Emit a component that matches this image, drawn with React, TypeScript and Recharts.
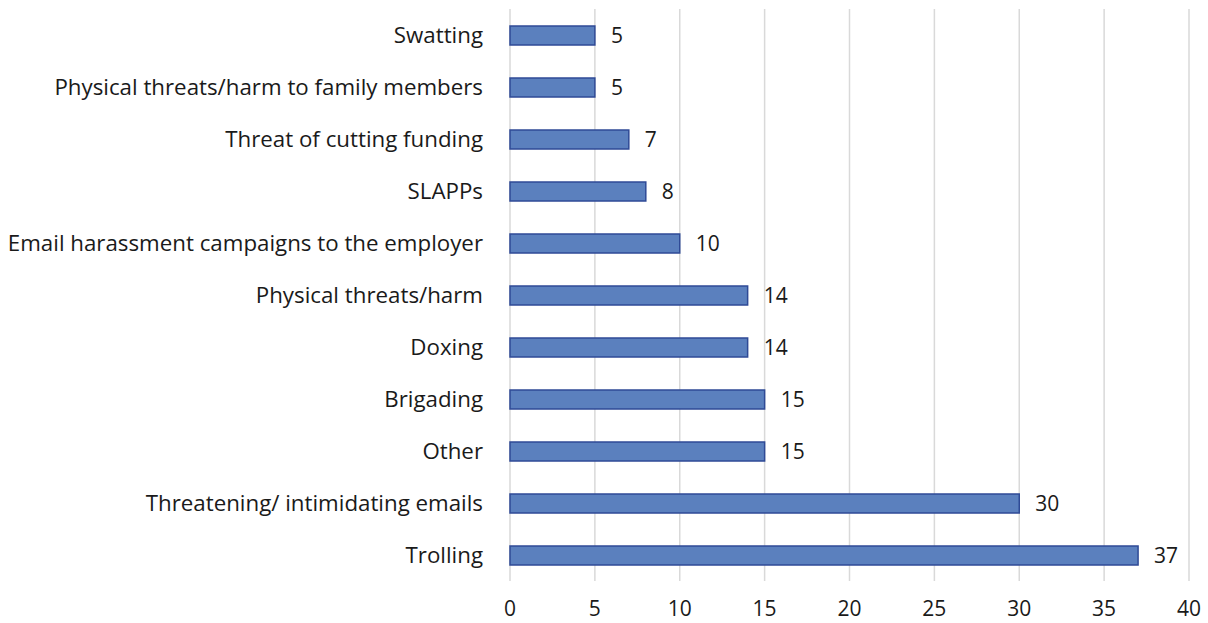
import { Bar, BarChart, CartesianGrid, LabelList, XAxis, YAxis } from 'recharts';

const categories = [
  'Swatting',
  'Physical threats/harm to family members',
  'Threat of cutting funding',
  'SLAPPs',
  'Email harassment campaigns to the employer',
  'Physical threats/harm',
  'Doxing',
  'Brigading',
  'Other',
  'Threatening/ intimidating emails',
  'Trolling',
];

const counts = [5, 5, 7, 8, 10, 14, 14, 15, 15, 30, 37];

const xTicks = [0, 5, 10, 15, 20, 25, 30, 35, 40];

const data = categories.map((name, i) => ({ name, value: counts[i] }));

const font = '"Open Sans", sans-serif';

export default function App() {
  return (
    <div style={{ position: 'absolute', left: 0, top: 0, background: '#fff' }}>
      <BarChart
        width={1208}
        height={623}
        data={data}
        layout="vertical"
        margin={{ top: 9, right: 19, bottom: 0, left: 0 }}
        barCategoryGap={0}
      >
        <CartesianGrid horizontal={false} stroke="#d9d9d9" strokeWidth={1.5} />
        <XAxis
          type="number"
          domain={[0, 40]}
          ticks={xTicks}
          height={42}
          axisLine={false}
          tickLine={false}
          tickSize={0}
          tickMargin={20}
          tick={{ fill: '#1a1a1a', fontSize: 21, fontFamily: font }}
        />
        <YAxis
          type="category"
          dataKey="name"
          width={510}
          axisLine={false}
          tickLine={false}
          tickSize={0}
          tickMargin={27}
          interval={0}
          tick={{ fill: '#1a1a1a', fontSize: 22.3, fontFamily: font }}
        />
        <Bar dataKey="value" fill="#5b80be" stroke="#2f4a96" strokeWidth={1.5} barSize={19} isAnimationActive={false}>
          <LabelList dataKey="value" position="right" offset={16} fill="#1a1a1a" fontSize={21} fontFamily={font} />
        </Bar>
      </BarChart>
    </div>
  );
}
